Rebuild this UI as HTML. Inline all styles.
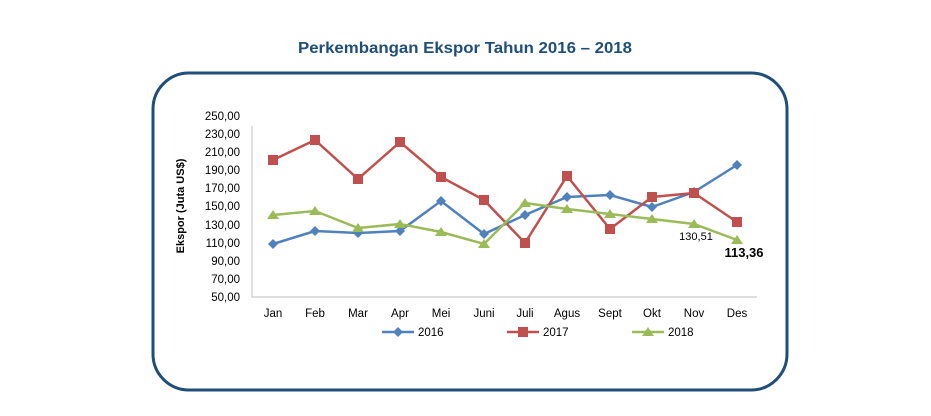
<!DOCTYPE html>
<html><head><meta charset="utf-8"><style>
body{margin:0;background:#fff;width:931px;height:416px;overflow:hidden}
svg{display:block;font-family:"Liberation Sans",sans-serif}
</style></head><body>
<svg width="931" height="416" viewBox="0 0 931 416">
<text x="465" y="53" text-anchor="middle" font-size="16" font-weight="bold" fill="#1f4e79" textLength="334" lengthAdjust="spacingAndGlyphs">Perkembangan Ekspor Tahun 2016 – 2018</text>
<rect x="153" y="73" width="634" height="317" rx="36" fill="#fff" stroke="#1f4e79" stroke-width="3"/>
<g font-size="11.5" fill="#000" text-anchor="end">
<text x="240" y="120">250,00</text><text x="240" y="138">230,00</text><text x="240" y="156">210,00</text>
<text x="240" y="174">190,00</text><text x="240" y="192">170,00</text><text x="240" y="210">150,00</text>
<text x="240" y="229">130,00</text><text x="240" y="247">110,00</text><text x="240" y="265">90,00</text>
<text x="240" y="283">70,00</text><text x="240" y="301">50,00</text>
</g>
<text transform="translate(184,206) rotate(-90)" text-anchor="middle" font-size="11" font-weight="bold">Ekspor (Juta US$)</text>
<polyline points="252,126 252,297 757,297" fill="none" stroke="#bfbfbf" stroke-width="1"/>
<g font-size="11.5" text-anchor="middle">
<text x="273" y="317">Jan</text><text x="315" y="317">Feb</text><text x="358" y="317">Mar</text><text x="400" y="317">Apr</text>
<text x="441" y="317">Mei</text><text x="484" y="317">Juni</text><text x="525" y="317">Juli</text><text x="567" y="317">Agus</text>
<text x="610" y="317">Sept</text><text x="652" y="317">Okt</text><text x="694" y="317">Nov</text><text x="737" y="317">Des</text>
</g>
<polyline fill="none" stroke="#4f81bd" stroke-width="2.5" points="273,244 315,231 358,233 400,231 441,201 484,234 525,215 567,197 610,195 652,207 694,192 737,165"/>
<polyline fill="none" stroke="#c0504d" stroke-width="2.5" points="273,160 315,140 358,179 400,142 441,177 484,200 525,243 567,176 610,229 652,197 694,193 737,222"/>
<polyline fill="none" stroke="#9bbb59" stroke-width="2.5" points="273,215 315,211 358,228 400,224 441,232 484,244 525,203 567,209 610,214 652,219 694,224 737,240"/>
<g fill="#4f81bd">
<path d="M273,239l5,5l-5,5l-5,-5z"/><path d="M315,226l5,5l-5,5l-5,-5z"/><path d="M358,228l5,5l-5,5l-5,-5z"/><path d="M400,226l5,5l-5,5l-5,-5z"/><path d="M441,196l5,5l-5,5l-5,-5z"/><path d="M484,229l5,5l-5,5l-5,-5z"/><path d="M525,210l5,5l-5,5l-5,-5z"/><path d="M567,192l5,5l-5,5l-5,-5z"/><path d="M610,190l5,5l-5,5l-5,-5z"/><path d="M652,202l5,5l-5,5l-5,-5z"/><path d="M694,187l5,5l-5,5l-5,-5z"/><path d="M737,160l5,5l-5,5l-5,-5z"/>
</g>
<g fill="#c0504d">
<rect x="268" y="155" width="10" height="10"/><rect x="310" y="135" width="10" height="10"/><rect x="353" y="174" width="10" height="10"/><rect x="395" y="137" width="10" height="10"/><rect x="436" y="172" width="10" height="10"/><rect x="479" y="195" width="10" height="10"/><rect x="520" y="238" width="10" height="10"/><rect x="562" y="171" width="10" height="10"/><rect x="605" y="224" width="10" height="10"/><rect x="647" y="192" width="10" height="10"/><rect x="689" y="188" width="10" height="10"/><rect x="732" y="217" width="10" height="10"/>
</g>
<g fill="#9bbb59">
<path d="M273,210l6,9h-12z"/><path d="M315,206l6,9h-12z"/><path d="M358,223l6,9h-12z"/><path d="M400,219l6,9h-12z"/><path d="M441,227l6,9h-12z"/><path d="M484,239l6,9h-12z"/><path d="M525,198l6,9h-12z"/><path d="M567,204l6,9h-12z"/><path d="M610,209l6,9h-12z"/><path d="M652,214l6,9h-12z"/><path d="M694,219l6,9h-12z"/><path d="M737,235l6,9h-12z"/>
</g>
<text x="696" y="240" font-size="11" fill="#000" text-anchor="middle">130,51</text>
<text x="744" y="257" font-size="13" font-weight="bold" text-anchor="middle">113,36</text>
<g font-size="11.5">
<line x1="382" y1="332" x2="414" y2="332" stroke="#4f81bd" stroke-width="2.5"/><path d="M398,327l5,5l-5,5l-5,-5z" fill="#4f81bd"/><text x="418" y="336">2016</text>
<line x1="507" y1="332" x2="539" y2="332" stroke="#c0504d" stroke-width="2.5"/><rect x="518" y="327" width="10" height="10" fill="#c0504d"/><text x="543" y="336">2017</text>
<line x1="632" y1="332" x2="664" y2="332" stroke="#9bbb59" stroke-width="2.5"/><path d="M648,327l6,9h-12z" fill="#9bbb59"/><text x="668" y="336">2018</text>
</g>
</svg>
</body></html>
